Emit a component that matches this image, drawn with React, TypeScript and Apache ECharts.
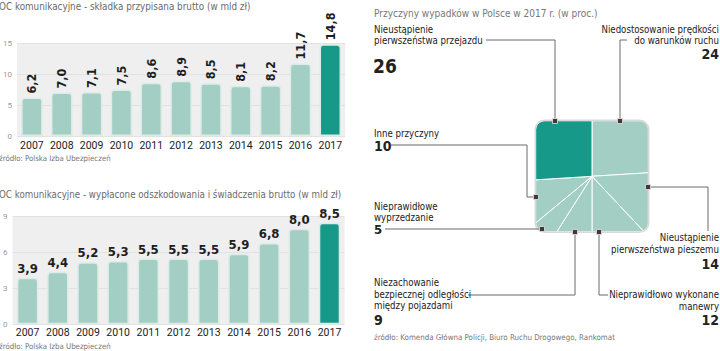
import React, { useEffect, useRef } from 'react';
import * as echarts from 'echarts';

const FONT = "'Liberation Sans Narrow', 'DejaVu Sans Condensed', 'Roboto', sans-serif";
const NUM_FONT = "'Roboto', 'DejaVu Sans Condensed', sans-serif";

const years = ['2007', '2008', '2009', '2010', '2011', '2012', '2013', '2014', '2015', '2016', '2017'];
const premiums = [6.2, 7.0, 7.1, 7.5, 8.6, 8.9, 8.5, 8.1, 8.2, 11.7, 14.8];
const payouts = [3.9, 4.4, 5.2, 5.3, 5.5, 5.5, 5.5, 5.9, 6.8, 8.0, 8.5];
const premiumTicks = { max: 15, interval: 5 };
const payoutTicks = { max: 9, interval: 3 };

const causes = [
  'Niedostosowanie prędkości\ndo warunków ruchu',
  'Nieustąpienie\npierwszeństwa pieszemu',
  'Nieprawidłowo wykonane\nmanewry',
  'Niezachowanie\nbezpiecznej odległości\nmiędzy pojazdami',
  'Nieprawidłowe\nwyprzedzanie',
  'Inne przyczyny',
  'Nieustąpienie\npierwszeństwa przejazdu',
];
const causeShares = [24, 14, 12, 9, 5, 10, 26];

const titleTop = 'OC komunikacyjne - składka przypisana brutto (w mld zł)';
const titleBottom = 'OC komunikacyjne - wypłacone odszkodowania i świadczenia brutto (w mld zł)';
const titleRight = 'Przyczyny wypadków w Polsce w 2017 r. (w proc.)';
const sourceLeft = 'źródło: Polska Izba Ubezpieczeń';
const sourceRight = 'źródło: Komenda Główna Policji, Biuro Ruchu Drogowego, Rankomat';

const LIGHT = '#a2cec4';
const DARK = '#17998a';

const totalShare = causeShares.reduce((a, b) => a + b, 0);
const causeStarts = causeShares.map((_, i) => causeShares.slice(0, i).reduce((a, b) => a + b, 0));

// square pie geometry
const SQ = { cx: 592, cy: 176.3, hw: 56.3, hh: 55.5, r: 9 };

function boundaryPoint(theta: number): number[] {
  const dx = Math.sin(theta);
  const dy = -Math.cos(theta);
  const tx = Math.abs(dx) > 1e-9 ? SQ.hw / Math.abs(dx) : Infinity;
  const ty = Math.abs(dy) > 1e-9 ? SQ.hh / Math.abs(dy) : Infinity;
  let t = Math.min(tx, ty);
  const px = t * dx;
  const py = t * dy;
  if (Math.abs(px) > SQ.hw - SQ.r && Math.abs(py) > SQ.hh - SQ.r) {
    const cx = Math.sign(px) * (SQ.hw - SQ.r);
    const cy = Math.sign(py) * (SQ.hh - SQ.r);
    const dc = dx * cx + dy * cy;
    const disc = dc * dc - (cx * cx + cy * cy) + SQ.r * SQ.r;
    t = dc + Math.sqrt(Math.max(0, disc));
  }
  return [SQ.cx + t * dx, SQ.cy + t * dy];
}

const fmt = (v: number) => v.toFixed(1).replace('.', ',');

function barData(values: number[]) {
  return values.map((v, i) =>
    i === values.length - 1 ? { value: v, itemStyle: { color: DARK } } : v
  );
}

function txt(x: number, y: number, text: string, opts: any = {}) {
  const align = opts.align || 'left';
  const va = opts.va || 'middle';
  return {
    type: 'text',
    x,
    y,
    z: 10,
    style: {
      text,
      fill: opts.fill || '#222',
      fontSize: opts.size || 9.6,
      fontFamily: opts.family || FONT,
      fontWeight: opts.weight || 'normal',
      lineHeight: opts.lh || 11.5,
      align,
      textAlign: align,
      verticalAlign: va,
      textVerticalAlign: va,
    },
  };
}

function leader(points: number[][]) {
  return {
    type: 'polyline',
    z: 9,
    shape: { points },
    style: { stroke: '#6a6a6a', lineWidth: 1, fill: 'none' },
  };
}

function marker(x: number, y: number) {
  return {
    type: 'rect',
    z: 11,
    shape: { x: x - 2.5, y: y - 2.5, width: 5, height: 5 },
    style: { fill: '#3b3b3b', stroke: '#f2dede', lineWidth: 0.8 },
  };
}

const axisCommon = {
  type: 'value',
  min: 0,
  axisLine: { show: false },
  axisTick: { show: false },
  splitLine: { show: true, lineStyle: { color: '#e2e2e2', width: 1 } },
  axisLabel: { color: '#9a9a9a', fontSize: 8, fontFamily: NUM_FONT, margin: 5 },
};

const xCommon = (margin: number) => ({
  type: 'category',
  data: years,
  axisLine: { show: false },
  axisTick: { show: false },
  axisLabel: { color: '#222', fontSize: 10.5, fontFamily: NUM_FONT, margin, interval: 0 },
});

const labelBase = {
  show: true,
  fontFamily: FONT,
  fontWeight: 'bold',
  color: '#1e1e1e',
  formatter: (p: any) => fmt(typeof p.value === 'number' ? p.value : p.value.value ?? p.value),
};

const option: any = {
  animation: false,
  backgroundColor: '#ffffff',
  grid: [
    { left: 16.6, right: 374.8, top: 43, bottom: 215, show: true, backgroundColor: '#efefef', borderWidth: 0 },
    { left: 11.7, right: 375.4, top: 216.7, bottom: 26.7, show: true, backgroundColor: '#efefef', borderWidth: 0 },
  ],
  xAxis: [
    { ...xCommon(4), gridIndex: 0 },
    { ...xCommon(2.5), gridIndex: 1 },
  ],
  yAxis: [
    { ...axisCommon, gridIndex: 0, max: premiumTicks.max, interval: premiumTicks.interval },
    { ...axisCommon, gridIndex: 1, max: payoutTicks.max, interval: payoutTicks.interval },
  ],
  series: [
    {
      type: 'bar',
      xAxisIndex: 0,
      yAxisIndex: 0,
      barWidth: '72%',
      data: barData(premiums),
      itemStyle: { color: LIGHT, borderColor: '#ddece7', borderWidth: 1.5, borderRadius: [3, 3, 0, 0] },
      label: { ...labelBase, position: 'top', rotate: 90, align: 'left', verticalAlign: 'middle', distance: 4, fontSize: 12.5 },
    },
    {
      type: 'bar',
      xAxisIndex: 1,
      yAxisIndex: 1,
      barWidth: '71%',
      data: barData(payouts),
      itemStyle: { color: LIGHT, borderColor: '#ddece7', borderWidth: 1.5, borderRadius: [3, 3, 0, 0] },
      label: { ...labelBase, position: 'top', distance: 3, fontSize: 13 },
    },
    {
      type: 'custom',
      coordinateSystem: 'none',
      data: causeShares.map((v) => [v]),
      renderItem: (params: any, api: any) => {
        const i = params.dataIndex;
        const a0 = (causeStarts[i] / totalShare) * Math.PI * 2;
        const a1 = a0 + (api.value(0) / totalShare) * Math.PI * 2;
        const pts: number[][] = [[SQ.cx, SQ.cy]];
        const n = Math.max(2, Math.ceil((a1 - a0) / (Math.PI / 360)));
        for (let k = 0; k <= n; k++) {
          pts.push(boundaryPoint(a0 + ((a1 - a0) * k) / n));
        }
        return {
          type: 'polygon',
          shape: { points: pts },
          style: { fill: i === causeShares.length - 1 ? DARK : LIGHT, stroke: '#ffffff', lineWidth: 1 },
        };
      },
    },
  ],
  graphic: [
    txt(-1, 6, titleTop, { fill: '#6b6b6b', size: 9.8 }),
    txt(-1, 158, sourceLeft, { fill: '#777', size: 7.8 }),
    txt(-1, 194, titleBottom, { fill: '#6b6b6b', size: 9.7 }),
    txt(-1, 346.5, sourceLeft, { fill: '#777', size: 7.8 }),
    txt(374, 13, titleRight, { fill: '#777', size: 10 }),
    {
      type: 'rect',
      z: 8,
      shape: { x: SQ.cx - SQ.hw - 0.5, y: SQ.cy - SQ.hh - 0.5, width: SQ.hw * 2 + 1, height: SQ.hh * 2 + 1, r: SQ.r + 0.5 },
      style: { fill: 'none', stroke: '#d9d9d9', lineWidth: 1.5 },
    },
    // Nieustąpienie pierwszeństwa przejazdu
    txt(374, 23.5, causes[6], { va: 'top' }),
    txt(373, 66, String(causeShares[6]), { size: 19, weight: 'bold' }),
    leader([[486, 40], [555, 40], [555, 121]]),
    marker(555, 121),
    // Niedostosowanie prędkości
    txt(719, 23.5, causes[0], { va: 'top', align: 'right' }),
    txt(719, 53.5, String(causeShares[0]), { size: 14, weight: 'bold', align: 'right' }),
    leader([[627, 40], [620, 40], [620, 121]]),
    marker(620, 121),
    // Inne przyczyny
    txt(374, 133, causes[5]),
    txt(374, 145.5, String(causeShares[5]), { size: 14, weight: 'bold' }),
    leader([[391, 145], [527, 145], [527, 197], [536, 197]]),
    marker(536, 197),
    // Nieprawidłowe wyprzedzanie
    txt(374, 201.5, causes[4], { va: 'top', lh: 10.5 }),
    txt(374, 229.5, String(causeShares[4]), { size: 13, weight: 'bold' }),
    leader([[385, 229], [542, 229]]),
    marker(542, 229),
    // Nieustąpienie pierwszeństwa pieszemu
    txt(719, 231, causes[1], { va: 'top', align: 'right', lh: 12.5 }),
    txt(719, 263.5, String(causeShares[1]), { size: 14, weight: 'bold', align: 'right' }),
    leader([[648, 187], [708, 187], [708, 231]]),
    marker(648, 187),
    // Niezachowanie bezpiecznej odległości
    txt(374, 277, causes[3], { va: 'top' }),
    txt(374, 319.5, String(causeShares[3]), { size: 14, weight: 'bold' }),
    leader([[468, 295], [575, 295], [575, 232]]),
    marker(575, 232),
    // Nieprawidłowo wykonane manewry
    txt(719, 289, causes[2], { va: 'top', align: 'right' }),
    txt(719, 319.5, String(causeShares[2]), { size: 14, weight: 'bold', align: 'right' }),
    leader([[608, 295], [599, 295], [599, 232]]),
    marker(599, 232),
    txt(374, 337.5, sourceRight, { fill: '#777', size: 7.9 }),
  ],
};

export default function App() {
  const ref = useRef<HTMLDivElement>(null);
  useEffect(() => {
    const chart = echarts.init(ref.current as HTMLDivElement, null, { renderer: 'svg' });
    chart.setOption(option);
    return () => chart.dispose();
  }, []);
  return (
    <div
      ref={ref}
      style={{ position: 'fixed', left: 0, top: 0, width: 720, height: 351, background: '#fff' }}
    />
  );
}
